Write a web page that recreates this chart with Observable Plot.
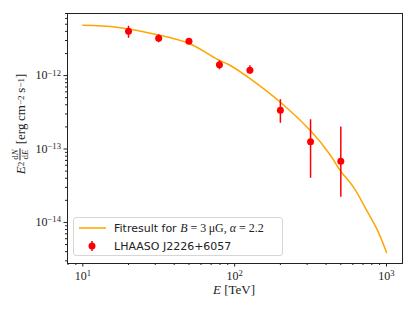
<!DOCTYPE html>
<html><head><meta charset="utf-8">
<script src="https://cdn.jsdelivr.net/npm/d3@7"></script>
<script src="https://cdn.jsdelivr.net/npm/@observablehq/plot@0.6"></script>
<style>
body{margin:0;background:#fff;}
#wrap{position:relative;width:415px;height:311px;overflow:hidden;}
.serif{font-family:"Liberation Serif","DejaVu Serif",serif;}
#ylab{position:absolute;left:20px;top:124px;transform:translate(-50%,-50%) rotate(-90deg);white-space:nowrap;font-size:13px;color:#222;display:flex;align-items:center;}
.frac{display:inline-flex;flex-direction:column;align-items:center;font-size:9px;line-height:9px;margin:0 4px 0 1px;}
.frac .num{border-bottom:0.7px solid #222;padding:0 1px;}
#xlab{position:absolute;left:234px;top:290px;transform:translate(-50%,-50%);white-space:nowrap;font-size:13px;color:#222;}
#legend{position:absolute;left:73px;top:217px;width:210px;height:39px;border:1px solid #d6d6d6;border-radius:3px;background:rgba(255,255,255,0.85);box-sizing:border-box;font-family:"DejaVu Sans",sans-serif;font-size:11px;color:#222;}
.row{position:absolute;left:0;height:16px;display:flex;align-items:center;}
.lt{position:absolute;left:40px;white-space:nowrap;}
sup{font-size:0.7em;vertical-align:0.5em;line-height:0;}
</style></head><body><div id="wrap"></div>
<script>
// measured data points (E in TeV, E^2 dN/dE in erg cm^-2 s^-1)
const energies = [20, 31.6, 50, 79.4, 126, 200, 316, 500];
const flux     = [4.02e-12, 3.23e-12, 2.94e-12, 1.40e-12, 1.18e-12, 3.37e-13, 1.26e-13, 6.8e-14];
const fluxLow  = [3.22e-12, 2.80e-12, 2.78e-12, 1.20e-12, 1.05e-12, 2.24e-13, 4.0e-14, 2.2e-14];
const fluxHigh = [4.70e-12, 3.60e-12, 3.10e-12, 1.59e-12, 1.36e-12, 4.7e-13, 2.5e-13, 2.0e-13];
// fit curve
const fitE    = [10, 16.7, 30.5, 50.6, 75.9, 93.7, 127, 200, 315, 426, 496, 607, 743, 865, 1000];
const fitFlux = [4.85e-12, 4.56e-12, 3.62e-12, 2.71e-12, 1.69e-12, 1.37e-12, 9.0e-13, 4.33e-13, 1.78e-13, 8.3e-14, 5.07e-14, 3.0e-14, 1.44e-14, 8.1e-15, 3.9e-15];
// ticks
const xMajor = [10, 100, 1000];
const xMinor = [8, 9, 20, 30, 40, 50, 60, 70, 80, 90, 200, 300, 400, 500, 600, 700, 800, 900];
const yMajor = [1e-14, 1e-13, 1e-12];
const yMinor = [3e-15,4e-15,5e-15,6e-15,7e-15,8e-15,9e-15,2e-14,3e-14,4e-14,5e-14,6e-14,7e-14,8e-14,9e-14,2e-13,3e-13,4e-13,5e-13,6e-13,7e-13,8e-13,9e-13,2e-12,3e-12,4e-12,5e-12,6e-12,7e-12];

const points = energies.map((e,i)=>({e, f:flux[i], lo:fluxLow[i], hi:fluxHigh[i]}));
const fit = fitE.map((e,i)=>({e, f:fitFlux[i]}));
const fmt = d => "10^" + Math.round(Math.log10(d));

const chart = Plot.plot({
  width: 415, height: 311,
  marginLeft: 67, marginRight: 13, marginTop: 13, marginBottom: 48,
  style: {fontFamily: '"Liberation Serif", serif', fontSize: "12px", color: "#222", background: "#fff"},
  x: {type: "log", domain: [7.93, 1274]},
  y: {type: "log", domain: [2.76e-15, 7.0e-12]},
  marks: [
    Plot.axisX({ticks: xMinor, tickSize: 2, tickFormat: null, label: null, text: null}),
    Plot.axisY({ticks: yMinor, tickSize: 2, tickFormat: null, label: null, text: null}),
    Plot.axisX({ticks: xMajor, tickSize: 3.5, tickPadding: 4, tickFormat: fmt, label: null}),
    Plot.axisY({ticks: yMajor, tickSize: 3.5, tickPadding: 3, tickFormat: fmt, label: null}),
    Plot.line(fit, {x: "e", y: "f", stroke: "#ffa500", strokeWidth: 1.5, curve: "catmull-rom"}),
    Plot.ruleX(points, {x: "e", y1: "lo", y2: "hi", stroke: "red", strokeWidth: 1.5}),
    Plot.dot(points, {x: "e", y: "f", r: 3.5, fill: "red", stroke: "none"}),
    Plot.frame({stroke: "#222", strokeWidth: 1})
  ]
});
const wrap = document.getElementById("wrap");
wrap.appendChild(chart);

// superscript exponents in tick labels
chart.querySelectorAll("text").forEach(t => {
  const s = t.textContent;
  if (s.includes("^")) {
    const [b, ex] = s.split("^");
    t.textContent = "";
    const ns = "http://www.w3.org/2000/svg";
    const a = document.createElementNS(ns, "tspan"); a.textContent = b;
    const c = document.createElementNS(ns, "tspan");
    c.textContent = ex.replace("-", "\u2212");
    c.setAttribute("dy", "-0.45em"); c.setAttribute("font-size", "0.72em");
    t.appendChild(a); t.appendChild(c);
  }
});

wrap.insertAdjacentHTML("beforeend", `
<div id="ylab" class="serif"><i>E</i><sup>2</sup><span class="frac"><span class="num">d<i>N</i></span><span>d<i>E</i></span></span>[erg&#8201;cm<sup>\u22122</sup>&#8201;s<sup>\u22121</sup>]</div>
<div id="xlab" class="serif"><i>E</i> [TeV]</div>
<div id="legend">
  <div class="row" style="top:2px;width:100%;"><svg width="40" height="16" style="position:absolute;left:0"><line x1="5" x2="32" y1="8" y2="8" stroke="#ffa500" stroke-width="1.5"/></svg><span class="lt">Fitresult for <span class="serif" style="font-size:12px"><i>B</i> = 3&#8201;μG, <i>α</i> = 2.2</span></span></div>
  <div class="row" style="top:20px;width:100%;"><svg width="40" height="16" style="position:absolute;left:0"><line x1="18" x2="18" y1="3" y2="13" stroke="red" stroke-width="1.5"/><circle cx="18" cy="8" r="3.5" fill="red"/></svg><span class="lt">LHAASO J2226+6057</span></div>
</div>`);
</script></body></html>
